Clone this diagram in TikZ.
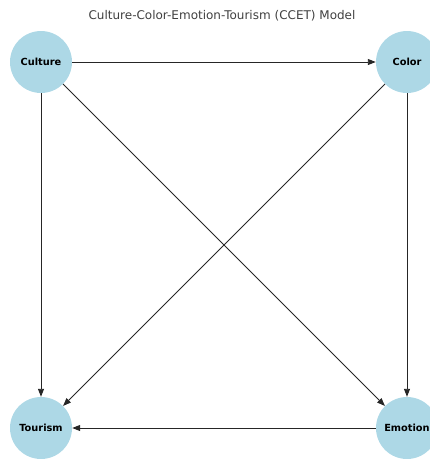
\documentclass[tikz,border=0pt]{standalone}
\usepackage{fontspec}
\setmainfont{DejaVu Sans}
\usetikzlibrary{arrows.meta}
\definecolor{nodeblue}{HTML}{ADD8E6}
\tikzset{
  concept/.style={circle,fill=nodeblue,inner sep=0pt,minimum size=62pt,font=\fontsize{9.8}{11}\selectfont\bfseries},
  link/.style={-{Triangle[length=8pt,width=6pt]},draw=black!85,line width=0.9pt}
}
\begin{document}
\begin{tikzpicture}[x=1pt,y=-1pt]
                    \useasboundingbox (0,0) rectangle (430,459);
                    \node[font=\fontsize{12}{14}\selectfont,text=black!75] (title) at (222,16) {Culture-Color-Emotion-Tourism (CCET) Model};
                    \node[concept] (culture) at (41,62) {Culture};
                    \node[concept] (color) at (407,62) {Color};
                    \node[concept] (tourism) at (41,428) {Tourism};
                    \node[concept] (emotion) at (407,428) {Emotion};
                    \draw[link] (culture) -- (color);
                    \draw[link] (culture) -- (tourism);
                    \draw[link] (culture) -- (emotion);
                    \draw[link] (color) -- (tourism);
                    \draw[link] (color) -- (emotion);
                    \draw[link] (emotion) -- (tourism);
                \end{tikzpicture}
\end{document}
